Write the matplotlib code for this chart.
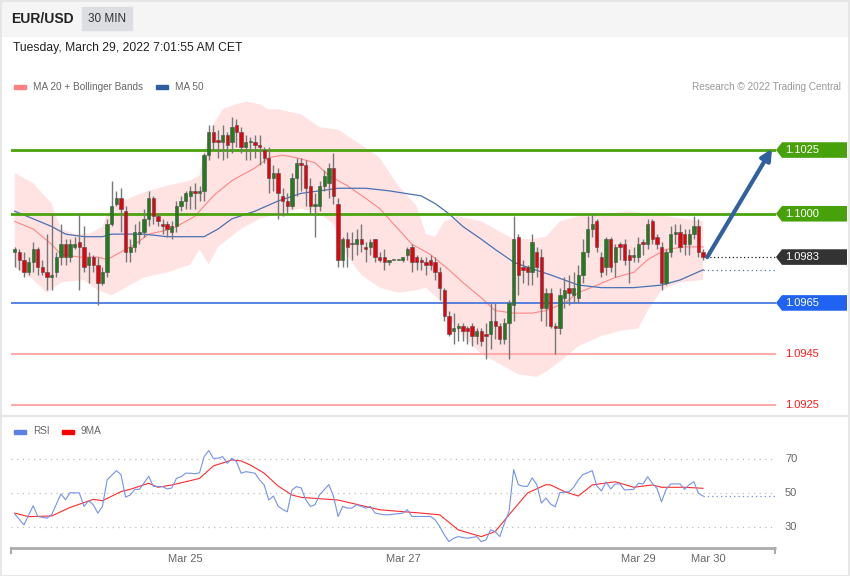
import numpy as np
import matplotlib.pyplot as plt
import matplotlib.transforms as mtransforms
from matplotlib.patches import Rectangle, Polygon

plt.rcParams['font.family'] = ['Liberation Sans', 'DejaVu Sans']

pair = "EUR/USD"
timeframe = "30 MIN"
stamp = "Tuesday, March 29, 2022 7:01:55 AM CET"
credit = "Research \u00a9 2022 Trading Central"

# 30 min candles, oldest first
opens = [
    1.0985, 1.0985, 1.0982, 1.0977, 1.0981, 1.0986, 1.0979, 1.0977, 1.0975, 1.0977,
    1.0983, 1.0988, 1.0983, 1.0987, 1.0989, 1.0987, 1.0980, 1.0983, 1.0980, 1.0973,
    1.0977, 1.0996, 1.1004, 1.1006, 1.1001, 1.0985, 1.0987, 1.0992, 1.0993, 1.0998,
    1.1006, 1.0999, 1.0996, 1.0996, 1.0993, 1.0995, 1.1003, 1.1005, 1.1007, 1.1009,
    1.1008, 1.1009, 1.1023, 1.1032, 1.1029, 1.1028, 1.1031, 1.1028, 1.1035, 1.1032,
    1.1026, 1.1028, 1.1028, 1.1027, 1.1025, 1.1022, 1.1014, 1.1016, 1.1007, 1.1005,
    1.1003, 1.1014, 1.1020, 1.1019, 1.1011, 1.1003, 1.1003, 1.1011, 1.1012, 1.1018,
    1.1004, 1.0982, 1.0990, 1.0988, 1.0988, 1.0990, 1.0987, 1.0987, 1.0990, 1.0983,
    1.0983, 1.0981, 1.0982, 1.0982, 1.0982, 1.0984, 1.0987, 1.0983, 1.0982, 1.0981,
    1.0982, 1.0981, 1.0977, 1.0970, 1.0960, 1.0954, 1.0955, 1.0956, 1.0955, 1.0956,
    1.0952, 1.0954, 1.0953, 1.0953, 1.0958, 1.0956, 1.0951, 1.0957, 1.0964, 1.0991,
    1.0979, 1.0979, 1.0977, 1.0985, 1.0983, 1.0963, 1.0969, 1.0956, 1.0955, 1.0967,
    1.0971, 1.0968, 1.0967, 1.0976, 1.0985, 1.0994, 1.0997, 1.0983, 1.0979, 1.0990,
    1.0981, 1.0988, 1.0988, 1.0984, 1.0983, 1.0983, 1.0989, 1.0988, 1.0997, 1.0991,
    1.0987, 1.0973, 1.0985, 1.0992, 1.0993, 1.0992, 1.0988, 1.0992, 1.0995, 1.0985,
]
highs = [
    1.0987, 1.0986, 1.0985, 1.0983, 1.0989, 1.0987, 1.0982, 1.0992, 1.1000, 1.0985,
    1.0996, 1.0990, 1.0990, 1.0991, 1.1000, 1.0995, 1.0985, 1.0984, 1.0983, 1.0979,
    1.0998, 1.1013, 1.1009, 1.1010, 1.1003, 1.0990, 1.0996, 1.0997, 1.1002, 1.1009,
    1.1007, 1.1000, 1.0998, 1.0997, 1.0997, 1.1005, 1.1007, 1.1009, 1.1011, 1.1012,
    1.1011, 1.1024, 1.1035, 1.1035, 1.1033, 1.1035, 1.1032, 1.1038, 1.1037, 1.1034,
    1.1031, 1.1030, 1.1031, 1.1031, 1.1026, 1.1026, 1.1019, 1.1018, 1.1010, 1.1008,
    1.1016, 1.1022, 1.1022, 1.1021, 1.1014, 1.1008, 1.1013, 1.1017, 1.1020, 1.1024,
    1.1006, 1.0991, 1.0993, 1.0993, 1.0994, 1.0996, 1.0989, 1.0990, 1.0990, 1.0985,
    1.0986, 1.0982, 1.0982, 1.0982, 1.0983, 1.0987, 1.0988, 1.0984, 1.0983, 1.0983,
    1.0984, 1.0983, 1.0979, 1.0971, 1.0962, 1.0961, 1.0957, 1.0957, 1.0956, 1.0957,
    1.0955, 1.0955, 1.0957, 1.0965, 1.0965, 1.0957, 1.0959, 1.0966, 1.0999, 1.0992,
    1.0982, 1.0980, 1.0992, 1.0987, 1.0986, 1.0971, 1.0971, 1.0957, 1.0971, 1.0975,
    1.0976, 1.0977, 1.0980, 1.0990, 1.0999, 1.1000, 1.0998, 1.0985, 1.0991, 1.0991,
    1.0988, 1.0989, 1.0990, 1.0986, 1.0987, 1.0991, 1.0990, 1.0998, 1.0998, 1.0992,
    1.0989, 1.0986, 1.0995, 1.0996, 1.0996, 1.0994, 1.0994, 1.0999, 1.0998, 1.0986,
]
lows = [
    1.0979, 1.0978, 1.0975, 1.0976, 1.0977, 1.0976, 1.0976, 1.0970, 1.0970, 1.0975,
    1.0980, 1.0980, 1.0981, 1.0986, 1.0970, 1.0977, 1.0973, 1.0977, 1.0964, 1.0972,
    1.0975, 1.0995, 1.1003, 1.0993, 1.0981, 1.0981, 1.0985, 1.0988, 1.0991, 1.0995,
    1.0996, 1.0995, 1.0992, 1.0991, 1.0990, 1.0993, 1.1001, 1.1002, 1.1002, 1.1002,
    1.1005, 1.1005, 1.1021, 1.1025, 1.1022, 1.1021, 1.1022, 1.1024, 1.1026, 1.1024,
    1.1021, 1.1021, 1.1022, 1.1019, 1.1020, 1.1008, 1.1009, 1.0998, 1.0999, 1.1000,
    1.1002, 1.1007, 1.1009, 1.1003, 1.1000, 1.0991, 1.1001, 1.1009, 1.1006, 1.1004,
    1.0979, 1.0979, 1.0979, 1.0982, 1.0984, 1.0985, 1.0981, 1.0984, 1.0981, 1.0981,
    1.0978, 1.0980, 1.0982, 1.0982, 1.0981, 1.0982, 1.0977, 1.0978, 1.0978, 1.0976,
    1.0978, 1.0974, 1.0966, 1.0958, 1.0952, 1.0949, 1.0950, 1.0950, 1.0949, 1.0948,
    1.0949, 1.0948, 1.0943, 1.0947, 1.0951, 1.0949, 1.0949, 1.0943, 1.0958, 1.0968,
    1.0973, 1.0972, 1.0972, 1.0975, 1.0958, 1.0956, 1.0955, 1.0945, 1.0953, 1.0963,
    1.0964, 1.0965, 1.0965, 1.0973, 1.0983, 1.0991, 1.0985, 1.0975, 1.0976, 1.0977,
    1.0975, 1.0982, 1.0980, 1.0973, 1.0981, 1.0981, 1.0984, 1.0986, 1.0988, 1.0986,
    1.0970, 1.0972, 1.0983, 1.0988, 1.0985, 1.0984, 1.0984, 1.0990, 1.0983, 1.0982,
]
closes = [
    1.0986, 1.0982, 1.0977, 1.0981, 1.0986, 1.0979, 1.0977, 1.0975, 1.0976, 1.0983,
    1.0988, 1.0983, 1.0988, 1.0988, 1.0987, 1.0979, 1.0983, 1.0980, 1.0973, 1.0977,
    1.0996, 1.1003, 1.1006, 1.1002, 1.0985, 1.0987, 1.0993, 1.0993, 1.0998, 1.1006,
    1.0999, 1.0997, 1.0995, 1.0994, 1.0995, 1.1003, 1.1005, 1.1008, 1.1009, 1.1008,
    1.1009, 1.1023, 1.1032, 1.1028, 1.1028, 1.1031, 1.1027, 1.1034, 1.1032, 1.1026,
    1.1028, 1.1028, 1.1027, 1.1026, 1.1022, 1.1014, 1.1016, 1.1008, 1.1005, 1.1003,
    1.1014, 1.1020, 1.1019, 1.1010, 1.1003, 1.1004, 1.1011, 1.1015, 1.1018, 1.1007,
    1.0982, 1.0990, 1.0987, 1.0988, 1.0990, 1.0988, 1.0986, 1.0989, 1.0983, 1.0982,
    1.0981, 1.0982, 1.0982, 1.0982, 1.0983, 1.0986, 1.0981, 1.0981, 1.0981, 1.0980,
    1.0980, 1.0977, 1.0971, 1.0960, 1.0953, 1.0955, 1.0956, 1.0954, 1.0954, 1.0952,
    1.0954, 1.0950, 1.0952, 1.0958, 1.0956, 1.0951, 1.0957, 1.0965, 1.0990, 1.0976,
    1.0978, 1.0977, 1.0989, 1.0979, 1.0963, 1.0969, 1.0956, 1.0955, 1.0968, 1.0970,
    1.0969, 1.0971, 1.0976, 1.0985, 1.0994, 1.0996, 1.0987, 1.0977, 1.0990, 1.0979,
    1.0987, 1.0987, 1.0982, 1.0982, 1.0984, 1.0988, 1.0988, 1.0996, 1.0990, 1.0988,
    1.0973, 1.0985, 1.0992, 1.0993, 1.0987, 1.0988, 1.0992, 1.0995, 1.0985, 1.0983,
]

# indicator readings (candle index, value)
ma20_idx = [0, 4, 8, 10, 14, 18, 20, 22, 26, 29, 34, 39, 43, 47, 52, 55, 58, 61, 65, 68, 72,
            76, 79, 83, 86, 90, 94, 97, 101, 104, 108, 112, 115, 119, 122, 126, 130, 134,
            137, 141, 145, 149]
ma20_val = [1.0997, 1.0994, 1.0988, 1.0984, 1.0983, 1.0983, 1.0982, 1.0984, 1.0988, 1.0992,
            1.0994, 1.0999, 1.1007, 1.1013, 1.1018, 1.1022, 1.1023, 1.1022, 1.1020, 1.1015,
            1.1011, 1.1006, 1.1002, 1.0994, 1.0988, 1.0984, 1.0978, 1.0973, 1.0967, 1.0962,
            1.0961, 1.0961, 1.0962, 1.0965, 1.0969, 1.0972, 1.0975, 1.0977, 1.0982, 1.0986,
            1.0987, 1.0987]
upper_idx = [0, 4, 8, 10, 13, 16, 19, 20, 22, 26, 29, 33, 38, 40, 41, 43, 45, 48, 50, 53, 55,
             57, 62, 66, 70, 75, 79, 83, 87, 89, 91, 93, 96, 101, 105, 108, 112, 115, 118,
             122, 128, 133, 137, 141, 145, 149]
upper_val = [1.1016, 1.1012, 1.1004, 1.0994, 1.0992, 1.0992, 1.0995, 1.1000, 1.1004, 1.1007,
             1.1009, 1.1011, 1.1013, 1.1015, 1.1025, 1.1035, 1.1041, 1.1043, 1.1044, 1.1043,
             1.1041, 1.1041, 1.1039, 1.1034, 1.1033, 1.1027, 1.1022, 1.1011, 1.1003, 1.0992,
             1.0991, 1.0997, 1.0999, 1.0997, 1.0993, 1.0990, 1.0990, 1.0991, 1.0997, 1.0999,
             1.1000, 1.1001, 1.1000, 1.0999, 1.0998, 1.0997]
lower_idx = [0, 4, 7, 10, 15, 18, 21, 24, 28, 33, 38, 40, 42, 44, 49, 53, 57, 62, 66, 69, 71,
             75, 79, 83, 87, 89, 92, 96, 101, 105, 109, 113, 115, 118, 122, 127, 131, 135,
             137, 140, 144, 149]
lower_val = [1.0979, 1.0974, 1.0969, 1.0973, 1.0974, 1.0970, 1.0968, 1.0971, 1.0975, 1.0977,
             1.0980, 1.0986, 1.0980, 1.0987, 1.0994, 1.0998, 1.1000, 1.1002, 1.1000, 1.0996,
             1.0986, 1.0976, 1.0971, 1.0969, 1.0970, 1.0971, 1.0966, 1.0954, 1.0945, 1.0941,
             1.0937, 1.0936, 1.0938, 1.0942, 1.0948, 1.0952, 1.0954, 1.0955, 1.0962, 1.0970,
             1.0973, 1.0974]
ma50_idx = [0, 4, 8, 11, 15, 19, 21, 24, 28, 33, 37, 41, 44, 47, 52, 57, 62, 66, 70, 76, 81,
            88, 91, 94, 97, 101, 104, 108, 111, 116, 122, 127, 134, 140, 144, 149]
ma50_val = [1.1001, 1.0998, 1.0995, 1.0992, 1.0991, 1.0991, 1.0992, 1.0992, 1.0992, 1.0991,
            1.0991, 1.0991, 1.0994, 1.0998, 1.1001, 1.1005, 1.1008, 1.1009, 1.1010, 1.1010,
            1.1009, 1.1007, 1.1004, 1.1000, 1.0995, 1.0990, 1.0986, 1.0981, 1.0979, 1.0976,
            1.0972, 1.0971, 1.0971, 1.0972, 1.0974, 1.0978]

rsi_idx = [0, 2, 4, 5, 7, 8, 10, 11, 12, 14, 15, 16, 17, 18, 19, 20, 22, 23, 24, 25, 26, 27,
           28, 29, 30, 32, 33, 34, 35, 36, 37, 38, 39, 40, 41, 42, 43, 44, 45, 46, 47, 48, 49,
           50, 51, 52, 53, 54, 55, 56, 57, 58, 59, 60, 61, 62, 63, 64, 65, 66, 67, 68, 69, 70,
           71, 72, 73, 74, 75, 76, 77, 78, 80, 81, 84, 85, 86, 88, 90, 91, 92, 93, 94, 95, 96,
           98, 100, 101, 102, 103, 104, 105, 106, 107, 108, 109, 110, 111, 112, 113, 114, 115,
           116, 117, 118, 120, 121, 122, 123, 124, 125, 126, 127, 128, 129, 130, 131, 132, 134,
           135, 136, 137, 138, 139, 140, 141, 142, 144, 145, 146, 147, 148, 149]
rsi_val = [37.5, 31, 42.4, 36, 35, 37, 49.4, 46, 50.2, 50, 42, 45.4, 43, 38, 42, 57.8, 63.3, 61,
           47.6, 48.8, 52.2, 52.2, 56, 60, 54, 53.8, 52.4, 53, 58.7, 59.7, 61.8, 61.8, 61.5, 62,
           71.7, 75.3, 70.7, 70.7, 71.7, 67.7, 70.7, 68.7, 61.8, 62.7, 62.3, 61.8, 57.8, 54.8,
           45.8, 48.2, 42.2, 40.2, 38.8, 51.8, 53.8, 53, 46, 42, 43, 49, 52, 55, 48, 36, 42, 41,
           41, 43, 42, 41, 42, 38, 37, 37, 38, 40, 36, 36, 36, 34, 30, 25, 21, 23, 24, 23, 24,
           21, 22, 28, 27, 24, 32, 39, 64, 55, 54, 54, 59, 55, 44, 47, 43.4, 41.8, 50.2, 50.8,
           53.4, 57.8, 61, 62.1, 63.3, 54.2, 51.2, 56.7, 52.4, 55.4, 55.4, 51.8, 52.2, 55.8,
           55.4, 59.7, 55.8, 52.8, 44.8, 52.2, 55.4, 55.4, 52.2, 55, 56.7, 49.8, 48.2]
rsi_ma_idx = [0, 3, 8, 12, 17, 19, 23, 25, 29, 31, 34, 37, 40, 43, 47, 49, 51, 54, 57, 60, 62,
              70, 79, 88, 92, 96, 101, 104, 107, 111, 115, 116, 119, 122, 125, 130, 134, 138,
              140, 145, 149]
rsi_ma_val = [38, 35.9, 36.3, 41.4, 46.2, 45.4, 50.8, 52.2, 55.8, 53.4, 54.8, 56.7, 58.7, 66.1,
              69.7, 69.1, 66.7, 61.8, 54.2, 48.8, 47.4, 45.8, 40, 38, 37, 28, 24, 27, 37, 50,
              55, 54.8, 50.8, 48.2, 54.8, 56.7, 53.4, 54.8, 53.4, 53.4, 52.8]

resistances = [1.1025, 1.1000]
supports = [1.0965, 1.0945, 1.0925]
rsi_levels = [70, 50, 30]
date_ticks = [36.9, 84.05, 134.9, 150.1]
date_labels = ["Mar 25", "Mar 27", "Mar 29", "Mar 30"]

W, H = 850, 576
fig = plt.figure(figsize=(W / 100, H / 100), dpi=100)

# pixel overlay for frame, header and labels
bg = fig.add_axes([0, 0, 1, 1])
bg.set_xlim(0, W)
bg.set_ylim(H, 0)
bg.axis('off')
bg.add_patch(Rectangle((0, 0), W, 36, color='#f5f5f5', zorder=0))
bg.add_patch(Rectangle((82, 7), 50, 23, color='#dcdee2', zorder=1))
bg.add_patch(Rectangle((0.5, 0.5), W - 1, H - 1, fill=False, ec='#e3e3e3', lw=1.2, zorder=2))
bg.plot([0, W], [416, 416], color='#e6e6e6', lw=1.5, zorder=2)
bg.text(11, 19, pair, fontsize=10, fontweight='bold', color='#222222', va='center')
bg.text(107, 19, timeframe, fontsize=8.5, color='#333333', va='center', ha='center')
bg.text(13, 48.5, stamp, fontsize=8.7, color='#222222', va='center')

bg.add_patch(Rectangle((14, 84.5), 12, 4, color='#ff8080'))
bg.text(33, 86.5, "MA 20 + Bollinger Bands", fontsize=7.2, color='#666666', va='center')
bg.add_patch(Rectangle((156, 84.5), 12, 4, color='#2f5f9f'))
bg.text(175, 86.5, "MA 50", fontsize=7.2, color='#666666', va='center')
bg.text(841, 86.5, credit, fontsize=7.2, color='#999999', va='center', ha='right')

bg.add_patch(Rectangle((14, 429.5), 12, 4, color='#5b80e6'))
bg.text(33, 431.5, "RSI", fontsize=7.2, color='#666666', va='center')
bg.add_patch(Rectangle((62, 429.5), 12, 4, color='#ff0000'))
bg.text(81, 431.5, "9MA", fontsize=7.2, color='#666666', va='center')

# price panel
ax = fig.add_axes([11 / W, 1 - 412 / H, 765 / W, 317 / H])
ax.set_xlim(-0.8, 164.78)
ax.set_ylim(1.09222, 1.10466)
ax.axis('off')

band = list(zip(upper_idx, upper_val)) + list(zip(lower_idx[::-1], lower_val[::-1]))
ax.add_patch(Polygon(band, closed=True, fc='#ffe3e3', ec='none', zorder=1))
ax.plot(ma20_idx, ma20_val, color='#ff8585', lw=0.8, zorder=2)
ax.plot(ma50_idx, ma50_val, color='#4a70b4', lw=0.9, zorder=2)

for lvl in resistances:
    ax.axhline(lvl, color='#4aa30c', lw=2, zorder=3)
ax.axhline(supports[0], color='#3a6fdc', lw=1.2, zorder=3)
for lvl in supports[1:]:
    ax.axhline(lvl, color='#ffabab', lw=1.5, zorder=3)

idx = np.arange(len(closes))
o = np.array(opens)
c = np.array(closes)
ax.vlines(idx, lows, highs, color='#777777', lw=1.0, zorder=4)
rising = c >= o
ax.bar(idx, np.maximum(np.abs(c - o), 0.00004), 0.72, np.minimum(o, c),
       color=np.where(rising, '#1f7d1f', '#e8000b'), edgecolor='#4d4d4d', linewidth=0.4, zorder=5)

last = len(closes) - 1
ax.plot([last + 0.6, 164.78], [closes[-1]] * 2, color='#222222', lw=0.9, ls=(0, (1, 2)), zorder=3)
ax.plot([last, 164.78], [ma50_val[-1]] * 2, color='#4a70b4', lw=0.9, ls=(0, (1, 2.5)), zorder=3)
ax.annotate('', xy=(163.9, 1.10255), xytext=(last + 0.9, closes[-1]),
            arrowprops=dict(arrowstyle='-|>', color='#30609f', lw=3, mutation_scale=16,
                            shrinkA=0, shrinkB=0), zorder=6)

# price tags on the right
tag = mtransforms.blended_transform_factory(bg.transData, ax.transData)
hh = 7.8 / 25500


def price_tag(price, color):
    pts = [(776, price), (782, price + hh), (847, price + hh), (847, price - hh), (782, price - hh)]
    bg.add_patch(Polygon(pts, closed=True, fc=color, ec='none', transform=tag, zorder=3))
    bg.text(785, price, f"{price:.4f}", fontsize=8, color='white', va='center',
            transform=tag, zorder=4)


for lvl in resistances:
    price_tag(lvl, '#47a10a')
price_tag(closes[-1], '#333333')
price_tag(supports[0], '#1f63f0')
for lvl in supports[1:]:
    bg.text(785, lvl, f"{lvl:.4f}", fontsize=8, color='#ff1a1a', va='center', transform=tag)

# RSI panel
rx = fig.add_axes([11 / W, 1 - 548 / H, 765 / W, 108 / H])
rx.set_xlim(-0.8, 164.78)
rx.set_ylim(17.2, 81.6)
rx.axis('off')
for lvl in rsi_levels:
    rx.axhline(lvl, color='#bdbdbd', lw=0.9, ls=(0, (1, 3.5)), zorder=1)
rx.plot(rsi_idx, rsi_val, color='#7393ea', lw=0.8, zorder=3)
rx.plot(rsi_ma_idx, rsi_ma_val, color='#ff2a2a', lw=0.8, zorder=2)
rx.plot([last, 164.78], [rsi_val[-1]] * 2, color='#6f8fe6', lw=0.9, ls=(0, (1, 2.5)), zorder=3)

rtag = mtransforms.blended_transform_factory(bg.transData, rx.transData)
for lvl in rsi_levels:
    bg.text(785, lvl, str(lvl), fontsize=8, color='#666666', va='center', transform=rtag)

bg.plot([11, 776], [548, 548], color='#ababab', lw=2, solid_capstyle='butt', zorder=2)
bg.plot([11.5, 11.5], [548, 553], color='#ababab', lw=1.5, zorder=2)
bg.plot([775.5, 775.5], [548, 553], color='#ababab', lw=1.5, zorder=2)
xtag = mtransforms.blended_transform_factory(rx.transData, bg.transData)
for pos, lab in zip(date_ticks, date_labels):
    bg.text(pos, 559, lab, fontsize=8, color='#666666', ha='center', va='center', transform=xtag)

fig.savefig('out.png', dpi=100)
